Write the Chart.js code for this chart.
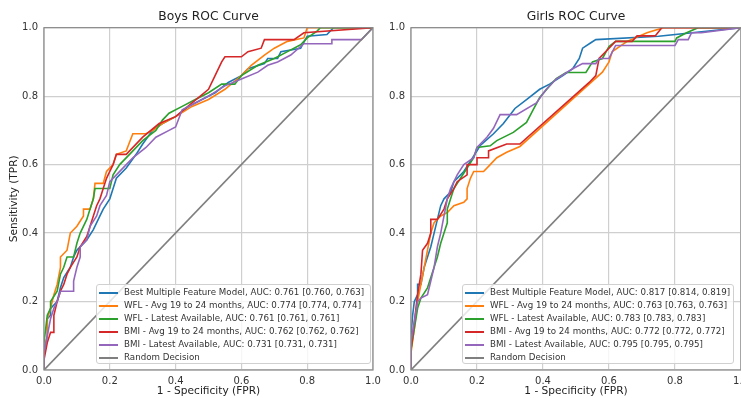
<!DOCTYPE html>
<html lang="en">
<head>
    <meta charset="UTF-8">
    <title>Boys and Girls ROC Curves</title>
    <script src="https://cdn.jsdelivr.net/npm/chart.js"></script>
    <style>
        body {
            margin: 0;
            background: #fff;
            font-family: "DejaVu Sans", sans-serif;
        }
        #wrap {
            position: relative;
            width: 741px;
            height: 398px;
            overflow: hidden;
        }
        canvas {
            position: absolute;
            top: 0;
        }
        .legend {
            position: absolute;
            top: 284px;
            height: 80px;
            padding-top: 1px;
            box-sizing: border-box;
            background: rgba(255, 255, 255, 0.8);
            border: 1px solid #d0d0d0;
            border-radius: 3px;
            font-size: 8.7px;
            color: #333;
        }
        .legend div {
            height: 13px;
            line-height: 13px;
            white-space: nowrap;
        }
        .legend span {
            display: inline-block;
            width: 19px;
            height: 2px;
            margin: 0 6px 0 2px;
            vertical-align: middle;
        }
    </style>
</head>
<body>
    <div id="wrap">
        <canvas id="boysChart" width="400" height="398" style="left:0"></canvas>
        <canvas id="girlsChart" width="390" height="398" style="left:370px"></canvas>
        <div class="legend" id="boysLegend" style="left:96px;width:275px"></div>
        <div class="legend" id="girlsLegend" style="left:462px;width:272px"></div>
    </div>

    <script>
        const colors = ['#1f77b4', '#ff7f0e', '#2ca02c', '#d62728', '#9467bd', '#7f7f7f'];
        const tickValues = [0, 0.2, 0.4, 0.6, 0.8, 1.0];

        const boysLabels = [
            'Best Multiple Feature Model, AUC: 0.761 [0.760, 0.763]',
            'WFL - Avg 19 to 24 months, AUC: 0.774 [0.774, 0.774]',
            'WFL - Latest Available, AUC: 0.761 [0.761, 0.761]',
            'BMI - Avg 19 to 24 months, AUC: 0.762 [0.762, 0.762]',
            'BMI - Latest Available, AUC: 0.731 [0.731, 0.731]',
            'Random Decision'
        ];
        const girlsLabels = [
            'Best Multiple Feature Model, AUC: 0.817 [0.814, 0.819]',
            'WFL - Avg 19 to 24 months, AUC: 0.763 [0.763, 0.763]',
            'WFL - Latest Available, AUC: 0.783 [0.783, 0.783]',
            'BMI - Avg 19 to 24 months, AUC: 0.772 [0.772, 0.772]',
            'BMI - Latest Available, AUC: 0.795 [0.795, 0.795]',
            'Random Decision'
        ];

        // random decision diagonal
        const randomFpr = [0, 1];
        const randomTpr = [0, 1];

        // Boys curves
        const boysBestFpr = [0, 0, 0.01, 0.01, 0.02, 0.02, 0.03, 0.04, 0.05, 0.06, 0.08, 0.09, 0.10, 0.12, 0.13, 0.15, 0.17, 0.18, 0.20, 0.21, 0.22, 0.25, 0.28, 0.30, 0.33, 0.36, 0.40, 0.44, 0.48, 0.52, 0.56, 0.60, 0.62, 0.67, 0.68, 0.71, 0.72, 0.78, 0.80, 0.86, 0.88, 1.0];
        const boysBestTpr = [0, 0.05, 0.10, 0.15, 0.16, 0.18, 0.19, 0.20, 0.24, 0.27, 0.30, 0.33, 0.35, 0.37, 0.38, 0.41, 0.45, 0.47, 0.50, 0.53, 0.56, 0.59, 0.63, 0.66, 0.70, 0.72, 0.74, 0.77, 0.79, 0.81, 0.84, 0.86, 0.88, 0.895, 0.91, 0.91, 0.93, 0.94, 0.975, 0.98, 1.0, 1.0];

        const boysWflAvgFpr = [0, 0, 0.01, 0.01, 0.02, 0.03, 0.04, 0.05, 0.05, 0.07, 0.08, 0.10, 0.12, 0.12, 0.14, 0.15, 0.155, 0.18, 0.19, 0.21, 0.22, 0.25, 0.27, 0.31, 0.33, 0.36, 0.40, 0.45, 0.50, 0.55, 0.60, 0.63, 0.67, 0.70, 0.74, 0.79, 0.80, 1.0];
        const boysWflAvgTpr = [0, 0.05, 0.10, 0.15, 0.18, 0.22, 0.25, 0.30, 0.33, 0.35, 0.40, 0.42, 0.45, 0.47, 0.47, 0.50, 0.545, 0.545, 0.58, 0.60, 0.63, 0.64, 0.69, 0.69, 0.70, 0.72, 0.74, 0.77, 0.79, 0.82, 0.86, 0.89, 0.92, 0.94, 0.96, 0.97, 1.0, 1.0];

        const boysWflLatestFpr = [0, 0, 0.01, 0.02, 0.02, 0.04, 0.05, 0.06, 0.07, 0.09, 0.10, 0.11, 0.13, 0.14, 0.15, 0.155, 0.20, 0.21, 0.23, 0.26, 0.30, 0.34, 0.36, 0.38, 0.42, 0.46, 0.50, 0.54, 0.58, 0.60, 0.65, 0.70, 0.74, 0.78, 0.80, 0.83, 0.84, 1.0];
        const boysWflLatestTpr = [0, 0.08, 0.16, 0.18, 0.20, 0.23, 0.28, 0.30, 0.33, 0.33, 0.37, 0.40, 0.44, 0.47, 0.50, 0.53, 0.53, 0.57, 0.60, 0.63, 0.67, 0.70, 0.73, 0.75, 0.77, 0.79, 0.81, 0.835, 0.835, 0.86, 0.89, 0.91, 0.93, 0.95, 0.97, 0.99, 1.0, 1.0];

        const boysBmiAvgFpr = [0, 0, 0.01, 0.02, 0.03, 0.03, 0.04, 0.05, 0.06, 0.07, 0.08, 0.10, 0.11, 0.13, 0.14, 0.15, 0.16, 0.17, 0.18, 0.19, 0.20, 0.21, 0.22, 0.25, 0.30, 0.35, 0.40, 0.45, 0.50, 0.52, 0.54, 0.55, 0.60, 0.62, 0.66, 0.67, 0.76, 0.79, 1.0];
        const boysBmiAvgTpr = [0, 0.03, 0.08, 0.11, 0.11, 0.16, 0.20, 0.23, 0.25, 0.28, 0.30, 0.33, 0.36, 0.39, 0.42, 0.45, 0.48, 0.50, 0.53, 0.56, 0.58, 0.60, 0.63, 0.63, 0.68, 0.72, 0.74, 0.78, 0.82, 0.86, 0.90, 0.915, 0.915, 0.93, 0.94, 0.965, 0.965, 0.985, 1.0];

        const boysBmiLatestFpr = [0, 0, 0.01, 0.02, 0.03, 0.04, 0.05, 0.09, 0.09, 0.10, 0.11, 0.11, 0.13, 0.14, 0.16, 0.17, 0.19, 0.20, 0.22, 0.25, 0.27, 0.31, 0.34, 0.38, 0.40, 0.42, 0.46, 0.50, 0.55, 0.60, 0.65, 0.68, 0.71, 0.75, 0.79, 0.875, 0.875, 0.965, 1.0];
        const boysBmiLatestTpr = [0, 0.05, 0.10, 0.15, 0.18, 0.20, 0.23, 0.23, 0.26, 0.30, 0.33, 0.36, 0.38, 0.42, 0.45, 0.48, 0.51, 0.55, 0.57, 0.60, 0.62, 0.65, 0.68, 0.70, 0.71, 0.76, 0.78, 0.80, 0.83, 0.85, 0.87, 0.89, 0.90, 0.92, 0.953, 0.953, 0.965, 0.965, 1.0];

        // Girls curves
        const girlsBestFpr = [0, 0, 0.005, 0.01, 0.02, 0.02, 0.03, 0.04, 0.05, 0.06, 0.07, 0.08, 0.09, 0.10, 0.12, 0.13, 0.16, 0.18, 0.20, 0.21, 0.25, 0.28, 0.315, 0.35, 0.39, 0.42, 0.46, 0.49, 0.51, 0.52, 0.545, 0.56, 0.75, 1.0];
        const girlsBestTpr = [0, 0.10, 0.16, 0.20, 0.22, 0.25, 0.25, 0.30, 0.33, 0.36, 0.40, 0.44, 0.48, 0.50, 0.52, 0.55, 0.58, 0.61, 0.64, 0.656, 0.69, 0.72, 0.764, 0.79, 0.82, 0.835, 0.86, 0.88, 0.91, 0.94, 0.956, 0.965, 0.975, 1.0];

        const girlsWflAvgFpr = [0, 0, 0.01, 0.02, 0.03, 0.04, 0.05, 0.06, 0.07, 0.09, 0.11, 0.13, 0.16, 0.17, 0.17, 0.18, 0.19, 0.22, 0.24, 0.26, 0.29, 0.33, 0.58, 0.60, 0.61, 0.655, 0.715, 0.765, 1.0];
        const girlsWflAvgTpr = [0, 0.05, 0.12, 0.20, 0.25, 0.30, 0.35, 0.40, 0.43, 0.45, 0.46, 0.48, 0.49, 0.50, 0.53, 0.56, 0.58, 0.58, 0.60, 0.62, 0.636, 0.653, 0.87, 0.90, 0.93, 0.96, 0.985, 1.0, 1.0];

        const girlsWflLatestFpr = [0, 0, 0.01, 0.02, 0.03, 0.05, 0.06, 0.07, 0.08, 0.09, 0.10, 0.11, 0.11, 0.12, 0.13, 0.15, 0.17, 0.19, 0.20, 0.24, 0.26, 0.31, 0.35, 0.37, 0.39, 0.42, 0.44, 0.47, 0.53, 0.55, 0.58, 0.60, 0.62, 0.80, 0.805, 0.835, 0.87, 1.0];
        const girlsWflLatestTpr = [0, 0.06, 0.12, 0.18, 0.21, 0.24, 0.27, 0.30, 0.33, 0.37, 0.40, 0.43, 0.47, 0.50, 0.53, 0.56, 0.59, 0.62, 0.65, 0.655, 0.67, 0.694, 0.723, 0.76, 0.796, 0.83, 0.851, 0.869, 0.869, 0.90, 0.91, 0.945, 0.96, 0.96, 0.97, 0.985, 1.0, 1.0];

        const girlsBmiAvgFpr = [0, 0, 0.01, 0.02, 0.03, 0.035, 0.05, 0.06, 0.06, 0.08, 0.10, 0.11, 0.13, 0.14, 0.17, 0.17, 0.20, 0.20, 0.235, 0.235, 0.29, 0.33, 0.54, 0.56, 0.57, 0.60, 0.62, 0.67, 0.685, 0.74, 0.76, 1.0];
        const girlsBmiAvgTpr = [0, 0.06, 0.14, 0.22, 0.28, 0.35, 0.37, 0.40, 0.44, 0.44, 0.47, 0.50, 0.53, 0.55, 0.57, 0.60, 0.60, 0.62, 0.62, 0.64, 0.66, 0.66, 0.84, 0.86, 0.91, 0.94, 0.96, 0.96, 0.976, 0.976, 1.0, 1.0];

        const girlsBmiLatestFpr = [0, 0, 0.01, 0.02, 0.03, 0.05, 0.06, 0.07, 0.08, 0.09, 0.10, 0.11, 0.12, 0.14, 0.16, 0.19, 0.20, 0.23, 0.25, 0.27, 0.32, 0.38, 0.41, 0.44, 0.49, 0.52, 0.56, 0.57, 0.60, 0.62, 0.80, 0.81, 0.84, 0.85, 0.88, 1.0];
        const girlsBmiLatestTpr = [0, 0.08, 0.14, 0.20, 0.21, 0.22, 0.26, 0.30, 0.36, 0.40, 0.45, 0.50, 0.53, 0.57, 0.60, 0.62, 0.65, 0.68, 0.706, 0.746, 0.746, 0.78, 0.82, 0.85, 0.88, 0.895, 0.895, 0.91, 0.91, 0.948, 0.948, 0.965, 0.965, 0.985, 0.985, 1.0];

        const boysSeries = [
            [boysBestFpr, boysBestTpr],
            [boysWflAvgFpr, boysWflAvgTpr],
            [boysWflLatestFpr, boysWflLatestTpr],
            [boysBmiAvgFpr, boysBmiAvgTpr],
            [boysBmiLatestFpr, boysBmiLatestTpr],
            [randomFpr, randomTpr]
        ];
        const girlsSeries = [
            [girlsBestFpr, girlsBestTpr],
            [girlsWflAvgFpr, girlsWflAvgTpr],
            [girlsWflLatestFpr, girlsWflLatestTpr],
            [girlsBmiAvgFpr, girlsBmiAvgTpr],
            [girlsBmiLatestFpr, girlsBmiLatestTpr],
            [randomFpr, randomTpr]
        ];

        // spines on all four sides, like matplotlib
        const framePlugin = {
            id: 'frame',
            afterDatasetsDraw(chart) {
                const a = chart.chartArea;
                const ctx = chart.ctx;
                ctx.save();
                ctx.strokeStyle = '#8a8a8a';
                ctx.lineWidth = 1.2;
                ctx.strokeRect(a.left, a.top, a.right - a.left, a.bottom - a.top);
                ctx.restore();
            }
        };

        function drawChart(id, title, labels, series, opts) {
            const ctx = document.getElementById(id).getContext('2d');
            new Chart(ctx, {
                type: 'scatter',
                data: {
                    datasets: series.map((s, i) => ({
                        label: labels[i],
                        data: s[0].map((x, j) => ({ x: x, y: s[1][j] })),
                        showLine: true,
                        borderColor: colors[i],
                        backgroundColor: colors[i],
                        borderWidth: 1.6,
                        pointRadius: 0,
                        tension: 0,
                        order: -i
                    }))
                },
                options: {
                    responsive: false,
                    animation: false,
                    layout: {
                        padding: { left: 0, right: opts.padRight, top: 0, bottom: 0 }
                    },
                    scales: {
                        x: {
                            type: 'linear',
                            min: 0,
                            max: 1,
                            afterBuildTicks: (scale) => { scale.ticks = tickValues.map(v => ({ value: v })); },
                            afterFit: (scale) => { scale.height = 28; },
                            grid: { color: '#cfcfcf', lineWidth: 1.2, drawTicks: false },
                            border: { display: false },
                            ticks: {
                                padding: 5,
                                color: '#333',
                                font: { family: 'DejaVu Sans', size: 10 },
                                callback: v => v.toFixed(1)
                            },
                            title: {
                                display: true,
                                text: '1 - Specificity (FPR)',
                                color: '#222',
                                padding: 0,
                                font: { family: 'DejaVu Sans', size: 10.6 }
                            }
                        },
                        y: {
                            type: 'linear',
                            min: 0,
                            max: 1,
                            afterBuildTicks: (scale) => { scale.ticks = tickValues.map(v => ({ value: v })); },
                            afterFit: (scale) => { scale.width = opts.yWidth; },
                            grid: { color: '#cfcfcf', lineWidth: 1.2, drawTicks: false },
                            border: { display: false },
                            ticks: {
                                padding: 6,
                                color: '#333',
                                font: { family: 'DejaVu Sans', size: 10 },
                                callback: v => v.toFixed(1)
                            },
                            title: {
                                display: opts.yTitle,
                                text: 'Sensitivity (TPR)',
                                color: '#222',
                                padding: { top: 8, bottom: 0 },
                                font: { family: 'DejaVu Sans', size: 10.6 }
                            }
                        }
                    },
                    plugins: {
                        legend: { display: false },
                        tooltip: { enabled: false },
                        title: {
                            display: true,
                            text: title,
                            fullSize: false,
                            color: '#222',
                            padding: { top: 9.5, bottom: 3.4 },
                            font: { family: 'DejaVu Sans', size: 12.3, weight: 'normal' }
                        }
                    }
                },
                plugins: [framePlugin]
            });
        }

        function drawLegend(id, labels) {
            const box = document.getElementById(id);
            labels.forEach((label, i) => {
                const row = document.createElement('div');
                const swatch = document.createElement('span');
                swatch.style.background = colors[i];
                row.appendChild(swatch);
                row.appendChild(document.createTextNode(label));
                box.appendChild(row);
            });
        }

        drawChart('boysChart', 'Boys ROC Curve', boysLabels, boysSeries, { padRight: 27, yWidth: 44, yTitle: true });
        drawChart('girlsChart', 'Girls ROC Curve', girlsLabels, girlsSeries, { padRight: 19, yWidth: 41, yTitle: false });
        drawLegend('boysLegend', boysLabels);
        drawLegend('girlsLegend', girlsLabels);
    </script>
</body>
</html>
